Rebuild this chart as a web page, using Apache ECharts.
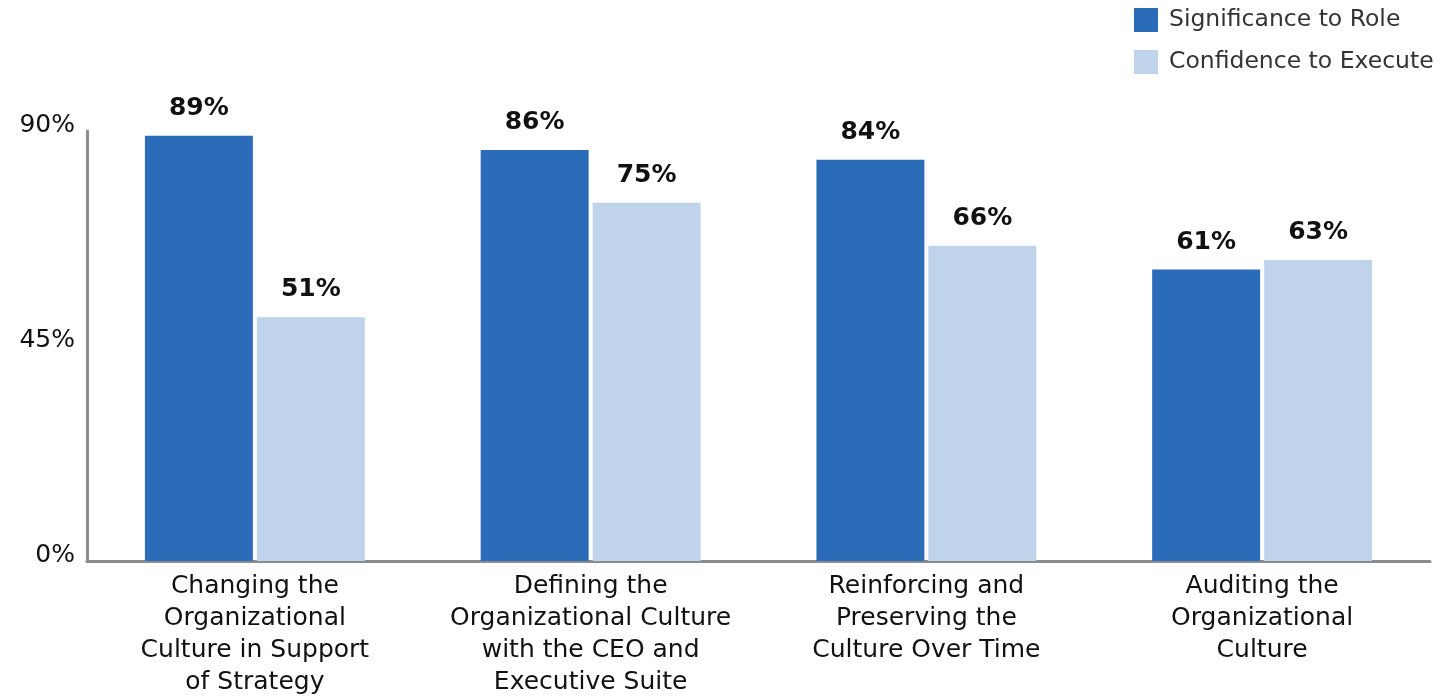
<!DOCTYPE html>
<html>
<head>
<meta charset="utf-8">
<script src="https://cdn.jsdelivr.net/npm/echarts@6/dist/echarts.min.js"></script>
<style>
  html, body { margin: 0; padding: 0; background: #fff; }
  #chart { width: 1455px; height: 696px; }
</style>
</head>
<body>
<div id="chart"></div>
<script>
// Culture-related activities and survey scores (%)
const categories = [
  'Changing the\nOrganizational\nCulture in Support\nof Strategy',
  'Defining the\nOrganizational Culture\nwith the CEO and\nExecutive Suite',
  'Reinforcing and\nPreserving the\nCulture Over Time',
  'Auditing the\nOrganizational\nCulture'
];
const significanceToRole = [89, 86, 84, 61];
const confidenceToExecute = [51, 75, 66, 63];
const seriesNames = ['Significance to Role', 'Confidence to Execute'];
const yTicks = [0, 45, 90];

const FONT = 'DejaVu Sans';
const chart = echarts.init(document.getElementById('chart'));

const valueLabel = {
  show: true,
  position: 'top',
  distance: 15,
  formatter: '{c}%',
  color: '#111',
  fontFamily: FONT,
  fontWeight: 'bold',
  fontSize: 25
};

chart.setOption({
  animation: false,
  backgroundColor: '#fff',
  textStyle: { fontFamily: FONT },
  legend: {
    orient: 'vertical',
    left: 1134,
    top: 8,
    padding: 0,
    itemWidth: 24,
    itemHeight: 24,
    itemGap: 18,
    icon: 'rect',
    textStyle: { fontFamily: FONT, fontSize: 23.5, color: '#333', padding: [3, 0, 0, 6] },
    data: seriesNames
  },
  grid: {
    left: 87, right: 25, top: 131, bottom: 135,
    containLabel: false,
    outerBoundsMode: 'none'
  },
  xAxis: {
    type: 'category',
    data: categories,
    axisLine: { show: true, lineStyle: { color: '#8c8c8c', width: 3 } },
    axisTick: { show: false },
    axisLabel: {
      interval: 0,
      margin: 9,
      color: '#111',
      fontFamily: FONT,
      fontSize: 25,
      lineHeight: 32
    }
  },
  yAxis: {
    type: 'value',
    min: 0,
    max: 90,
    interval: 45,
    axisLine: { show: true, lineStyle: { color: '#8c8c8c', width: 3 } },
    axisTick: { show: false },
    splitLine: { show: false },
    axisLabel: {
      margin: 12,
      color: '#111',
      fontFamily: FONT,
      fontSize: 25,
      verticalAlign: 'bottom',
      lineHeight: 12,
      formatter: v => yTicks.includes(v) ? v + '%' : ''
    }
  },
  series: [
    {
      name: seriesNames[0],
      type: 'bar',
      data: significanceToRole,
      itemStyle: { color: '#2b6cb8' },
      barGap: '3.7%',
      barCategoryGap: '34.5%',
      label: valueLabel
    },
    {
      name: seriesNames[1],
      type: 'bar',
      data: confidenceToExecute,
      itemStyle: { color: '#bfd3ea' },
      label: valueLabel
    }
  ]
});
</script>
</body>
</html>
